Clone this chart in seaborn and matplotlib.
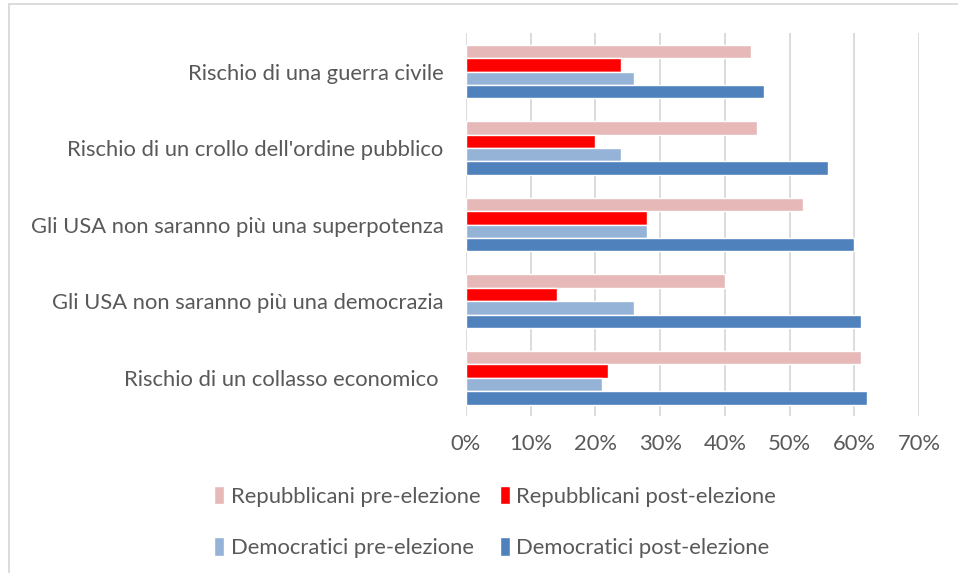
import numpy as np
import pandas as pd
import matplotlib
matplotlib.use('Agg')
import matplotlib.pyplot as plt
import seaborn as sns
from matplotlib.patches import Rectangle
from matplotlib.ticker import PercentFormatter

categories = ["Rischio di una guerra civile",
              "Rischio di un crollo dell'ordine pubblico",
              "Gli USA non saranno più una superpotenza",
              "Gli USA non saranno più una democrazia",
              "Rischio di un collasso economico "]
series = ["Repubblicani pre-elezione", "Repubblicani post-elezione",
          "Democratici pre-elezione", "Democratici post-elezione"]
rep_pre = [44, 45, 52, 40, 61]
rep_post = [24, 20, 28, 14, 22]
dem_pre = [26, 24, 28, 26, 21]
dem_post = [46, 56, 60, 61, 62]
colors = ["#E6B9B8", "#FF0000", "#95B3D7", "#4F81BD"]

rows = []
for name, vals in zip(series, [rep_pre, rep_post, dem_pre, dem_post]):
    for c, v in zip(categories, vals):
        rows.append({'cat': c, 'serie': name, 'val': v})
df = pd.DataFrame(rows)

sns.set_style('white')
plt.rcParams['font.family'] = ['Lato', 'DejaVu Sans']
grey = '#595959'

fig = plt.figure(figsize=(9.58, 5.73), dpi=100)
ax = fig.add_axes([0.4864, 0.274, 0.4729, 0.668])
sns.barplot(data=df, y='cat', x='val', hue='serie', order=categories,
            hue_order=series, palette=colors, width=0.7, saturation=1,
            orient='h', ax=ax, legend=True)

ax.set_xlim(0, 70)
ax.set_xticks(range(0, 71, 10))
ax.xaxis.set_major_formatter(PercentFormatter(decimals=0))
ax.grid(axis='x', color='#D9D9D9', linewidth=1.3)
ax.set_axisbelow(True)
for s in ax.spines.values():
    s.set_visible(False)
ax.set_xlabel('')
ax.set_ylabel('')
ax.tick_params(axis='both', length=0, labelsize=15.8, labelcolor=grey)
ax.tick_params(axis='x', pad=13)
ax.tick_params(axis='y', pad=16)

# legend laid out row by row, like the original
handles, labels = ax.get_legend_handles_labels()
ax.get_legend().remove()
idx = [0, 2, 1, 3]
fig.legend([handles[i] for i in idx], [labels[i] for i in idx],
           loc='center', bbox_to_anchor=(0.517, 0.089),
           ncol=2, frameon=False, fontsize=15.8, labelcolor=grey,
           handlelength=0.45, handleheight=0.9, handletextpad=0.3,
           columnspacing=0.9, labelspacing=1.4)

fig.patches.append(Rectangle((9 / 958, -0.1), 1.2, 1.1 - 4 / 573,
                             transform=fig.transFigure, fill=False,
                             edgecolor='#D9D9D9', linewidth=1.3))

fig.savefig('out.png', dpi=100)
